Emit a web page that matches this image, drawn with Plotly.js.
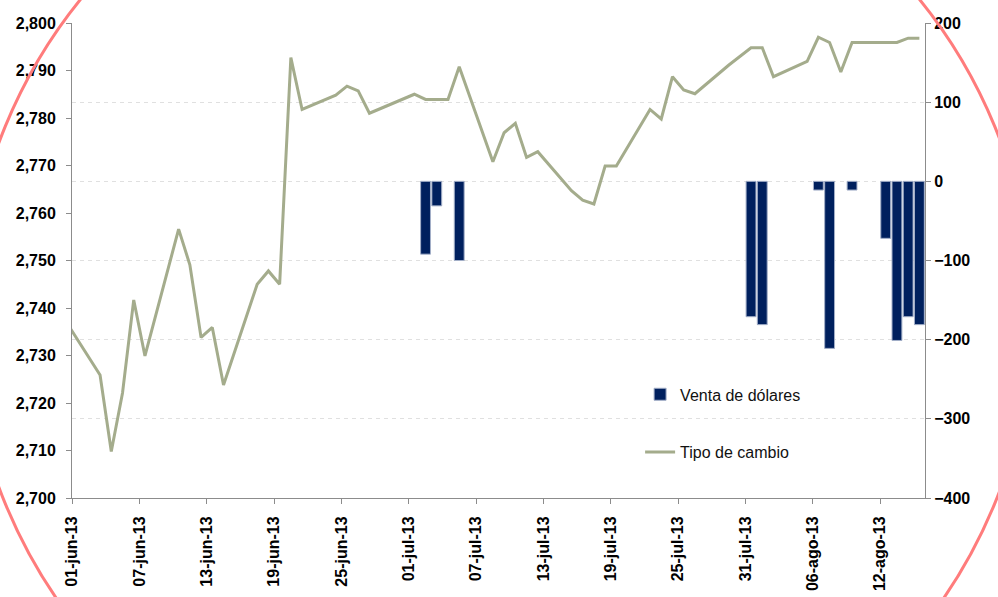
<!DOCTYPE html>
<html>
<head>
<meta charset="utf-8">
<script src="https://cdn.plot.ly/plotly-3.0.1.min.js"></script>
<style>
html,body{margin:0;padding:0;background:#fff;}
#chart{width:998px;height:597px;}
</style>
</head>
<body>
<div id="chart"></div>
<script>
// ---- Data ----
const lineDates = [
  '2013-05-31',
  '2013-06-03','2013-06-04','2013-06-05','2013-06-06','2013-06-07',
  '2013-06-10','2013-06-11','2013-06-12','2013-06-13','2013-06-14',
  '2013-06-17','2013-06-18','2013-06-19','2013-06-20','2013-06-21',
  '2013-06-24','2013-06-25','2013-06-26','2013-06-27','2013-06-28',
  '2013-07-01','2013-07-02','2013-07-03','2013-07-04','2013-07-05',
  '2013-07-08','2013-07-09','2013-07-10','2013-07-11','2013-07-12',
  '2013-07-15','2013-07-16','2013-07-17','2013-07-18','2013-07-19',
  '2013-07-22','2013-07-23','2013-07-24','2013-07-25','2013-07-26',
  '2013-07-29','2013-07-30','2013-07-31','2013-08-01','2013-08-02',
  '2013-08-05','2013-08-06','2013-08-07','2013-08-08','2013-08-09',
  '2013-08-12','2013-08-13','2013-08-14','2013-08-15'
];
const tipoDeCambio = [
  2737.0,
  2725.9, 2709.8, 2722.1, 2741.7, 2729.9,
  2756.6, 2749.1, 2733.8, 2735.9, 2723.8,
  2745.0, 2747.8, 2745.0, 2792.7, 2781.8,
  2784.8, 2786.7, 2785.7, 2781.0, 2782.0,
  2785.0, 2783.9, 2783.9, 2783.9, 2790.8,
  2770.8, 2776.9, 2778.9, 2771.7, 2772.9,
  2764.7, 2762.7, 2761.9, 2769.9, 2769.9,
  2781.8, 2779.8, 2788.7, 2785.9, 2785.1,
  2791.1, 2793.0, 2794.8, 2794.8, 2788.7,
  2791.9, 2797.0, 2795.9, 2789.7, 2795.9,
  2795.9, 2795.9, 2796.8, 2796.8
];
const barDates = [
  '2013-07-02','2013-07-03','2013-07-05',
  '2013-07-31','2013-08-01','2013-08-06','2013-08-07','2013-08-09',
  '2013-08-12','2013-08-13','2013-08-14','2013-08-15'
];
const ventaDolares = [-92, -31, -100, -171, -181, -11, -211, -11, -72, -201, -171, -181];

const tickDates = ['2013-06-01','2013-06-07','2013-06-13','2013-06-19','2013-06-25',
  '2013-07-01','2013-07-07','2013-07-13','2013-07-19','2013-07-25','2013-07-31',
  '2013-08-06','2013-08-12'];
const tickLabels = ['01-jun-13','07-jun-13','13-jun-13','19-jun-13','25-jun-13',
  '01-jul-13','07-jul-13','13-jul-13','19-jul-13','25-jul-13','31-jul-13',
  '06-ago-13','12-ago-13'];

const seriesNames = ['Venta de dólares', 'Tipo de cambio'];

// ---- Build ----
const mid = d => d + ' 12:00';
const DAY = 86400000;
const FONT = 'Liberation Sans, Arial, sans-serif';

const traces = [
  {
    type: 'bar',
    name: seriesNames[0],
    x: barDates.map(mid),
    y: ventaDolares,
    yaxis: 'y2',
    width: 0.88 * DAY,
    marker: {color: '#00205E', line: {color: '#A3AFC8', width: 1}},
    legendgroup: 'a'
  },
  {
    type: 'scatter',
    mode: 'lines',
    name: seriesNames[1],
    x: lineDates.map(mid),
    y: tipoDeCambio,
    yaxis: 'y',
    line: {color: '#A4AC8C', width: 3},
    legendgroup: 'b'
  }
];

const axisLine = '#8C8C8C';
const layout = {
  width: 998, height: 597,
  margin: {l: 72, r: 73, t: 23, b: 99, pad: 0},
  paper_bgcolor: '#ffffff',
  plot_bgcolor: '#ffffff',
  font: {family: FONT, color: '#000'},
  showlegend: true,
  legend: {
    x: 0.666, xanchor: 'left', y: 0.254, yanchor: 'top',
    bgcolor: 'rgba(0,0,0,0)',
    font: {family: FONT, size: 16, color: '#111'},
    traceorder: 'grouped',
    tracegroupgap: 34,
    itemwidth: 30
  },
  bargap: 0,
  xaxis: {
    type: 'date',
    range: ['2013-06-01', '2013-08-16'],
    tickmode: 'array',
    tickvals: tickDates,
    ticktext: tickLabels,
    tickangle: -90,
    tickfont: {family: FONT, size: 16, color: '#000', weight: 'bold'},
    ticks: 'outside', ticklen: 5, tickcolor: axisLine,
    ticklabelstandoff: 6,
    showline: true, linecolor: axisLine, linewidth: 1,
    showgrid: false, zeroline: false,
    fixedrange: true
  },
  yaxis: {
    range: [2700, 2800],
    dtick: 10, tick0: 2700,
    tickformat: ',d',
    tickfont: {family: FONT, size: 16, color: '#000', weight: 'bold'},
    ticks: 'outside', ticklen: 5, tickcolor: axisLine,
    ticklabelstandoff: 7,
    showline: true, linecolor: axisLine, linewidth: 1,
    showgrid: false, zeroline: false
  },
  yaxis2: {
    overlaying: 'y', side: 'right',
    range: [-400, 200],
    dtick: 100, tick0: 0,
    tickfont: {family: FONT, size: 16, color: '#000', weight: 'bold'},
    ticks: 'outside', ticklen: 5, tickcolor: axisLine,
    showline: true, linecolor: axisLine, linewidth: 1,
    showgrid: true, gridcolor: '#E0E0E0', griddash: '4px,4px', gridwidth: 1,
    zeroline: false
  },
  shapes: [
    {
      type: 'circle', xref: 'paper', yref: 'paper', layer: 'above',
      x0: -0.1219, x1: 1.1254, y0: -0.6947, y1: 1.4653,
      line: {color: '#FF7C7C', width: 3}
    }
  ]
};

Plotly.newPlot('chart', traces, layout, {staticPlot: true, displayModeBar: false});
</script>
</body>
</html>
